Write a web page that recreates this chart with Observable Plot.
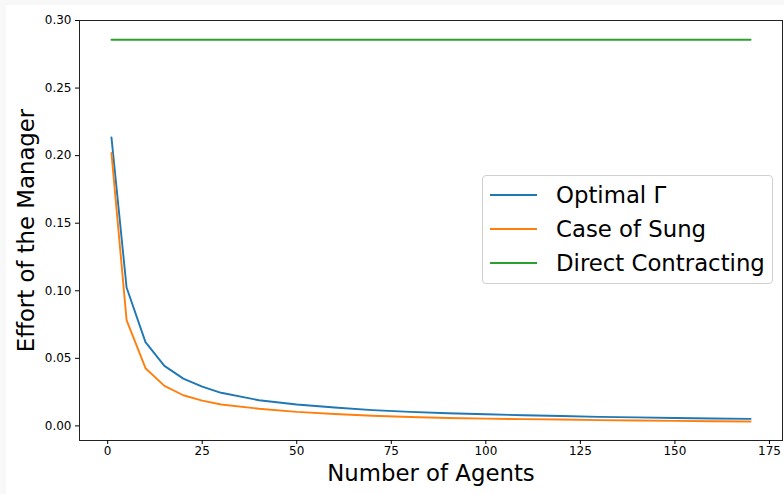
<!DOCTYPE html>
<html>
<head>
<meta charset="utf-8">
<script src="https://cdn.jsdelivr.net/npm/d3@7"></script>
<script src="https://cdn.jsdelivr.net/npm/@observablehq/plot@0.6"></script>
<style>
  html, body { margin: 0; padding: 0; background: #f8f8f8; }
  #wrap { position: relative; width: 784px; height: 494px; overflow: hidden; }
  #chart svg { display: block; margin: 5px 0 0 6px; background: #ffffff; }
  #legend {
    position: absolute; left: 482px; top: 175px; width: 289px; height: 107px;
    border: 1px solid #d0d0d0; border-radius: 4px; background: rgba(255,255,255,0.8);
    font-family: "DejaVu Sans", sans-serif; font-size: 22.8px; color: #000;
  }
  .row { position: absolute; left: 0; height: 34px; display: flex; align-items: center; }
  .swatch { position: absolute; left: 7px; width: 47px; height: 0; border-top: 2px solid; }
  .lab { position: absolute; left: 73px; white-space: nowrap; line-height: 34px; }
</style>
</head>
<body>
<div id="wrap">
  <div id="chart"></div>
  <div id="legend"></div>
</div>
<script>
// Data
const agents = [1, 5, 10, 15, 20, 25, 30, 40, 50, 60, 70, 80, 90, 100, 110, 120, 130, 140, 150, 160, 170];
const optimalGamma = [0.2135, 0.1024, 0.0620, 0.0444, 0.0350, 0.0290, 0.0245, 0.0190, 0.0158, 0.0136, 0.0117,
                      0.0104, 0.0094, 0.0086, 0.0079, 0.0073, 0.0067, 0.0063, 0.0059, 0.0055, 0.0052];
const caseOfSung = [0.2020, 0.0783, 0.0427, 0.0296, 0.0227, 0.0187, 0.0158, 0.0127, 0.0104, 0.0088, 0.0075,
                    0.0066, 0.0059, 0.0054, 0.0050, 0.0047, 0.0043, 0.0040, 0.0037, 0.0035, 0.0033];
const directContracting = agents.map(() => 0.2857);
const seriesNames = ["Optimal Γ", "Case of Sung", "Direct Contracting"];
const seriesColors = ["#1f77b4", "#ff7f0e", "#2ca02c"];
const xTicks = [0, 25, 50, 75, 100, 125, 150, 175];
const yTicks = [0.00, 0.05, 0.10, 0.15, 0.20, 0.25, 0.30];
const xLabel = "Number of Agents";
const yLabel = "Effort of the Manager";

const seriesValues = [optimalGamma, caseOfSung, directContracting];
const rows = [];
seriesNames.forEach((name, s) => {
  agents.forEach((a, i) => rows.push({series: name, x: a, y: seriesValues[s][i]}));
});

const font = "DejaVu Sans, sans-serif";
const chart = Plot.plot({
  width: 778,
  height: 489,
  marginLeft: 73,
  marginTop: 15,
  marginRight: 2,
  marginBottom: 54,
  style: {fontFamily: font, background: "#ffffff", color: "#000"},
  x: {domain: [-7.45, 178.45]},
  y: {domain: [-0.0108, 0.3]},
  color: {domain: seriesNames, range: seriesColors},
  marks: [
    Plot.line(rows, {x: "x", y: "y", z: "series", stroke: "series", strokeWidth: 1.9}),
    Plot.frame({stroke: "#222", strokeWidth: 1}),
    Plot.axisX({ticks: xTicks, tickSize: 4, tickPadding: 2, fontSize: 12, label: null, tickFormat: d3.format("d")}),
    Plot.axisY({ticks: yTicks, tickSize: 4, tickPadding: 4, fontSize: 12, label: null, tickFormat: d3.format(".2f")}),
    Plot.text([xLabel], {frameAnchor: "bottom", dy: 33, fontSize: 22.8, textAnchor: "middle", lineAnchor: "middle", fill: "#000"}),
    Plot.text([yLabel], {frameAnchor: "left", dx: -53, rotate: -90, fontSize: 22.8, textAnchor: "middle", lineAnchor: "middle", fill: "#000"})
  ]
});
document.getElementById("chart").appendChild(chart);

const legend = document.getElementById("legend");
seriesNames.forEach((name, i) => {
  const row = document.createElement("div");
  row.className = "row";
  row.style.top = (2 + i * 34) + "px";
  row.style.width = "100%";
  const sw = document.createElement("div");
  sw.className = "swatch";
  sw.style.borderColor = seriesColors[i];
  const lab = document.createElement("div");
  lab.className = "lab";
  lab.textContent = name;
  row.appendChild(sw);
  row.appendChild(lab);
  legend.appendChild(row);
});
</script>
</body>
</html>
